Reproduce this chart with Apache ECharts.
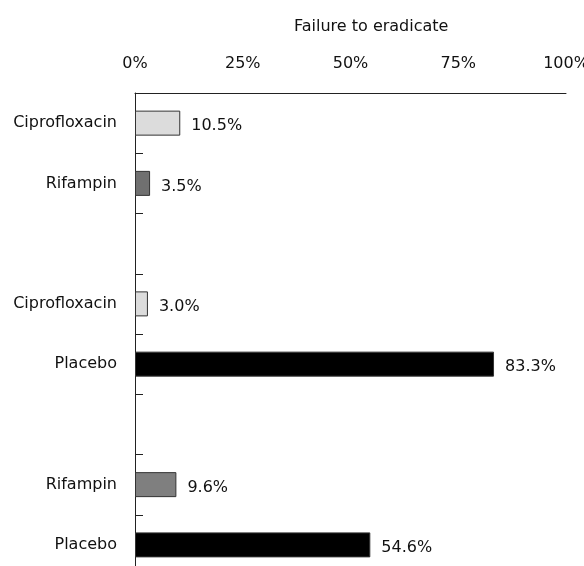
<!DOCTYPE html>
<html>
<head>
<meta charset="utf-8">
<script src="https://cdn.jsdelivr.net/npm/echarts@6/dist/echarts.min.js"></script>
<style>
  html, body { margin: 0; padding: 0; background: #fff; }
  #bar { width: 584px; height: 566px; }
</style>
</head>
<body>
<div id="bar"></div>
<script>
// categories (blank entries are the gaps between the study groups)
var categories = ['Ciprofloxacin', 'Rifampin', '', 'Ciprofloxacin', 'Placebo', '', 'Rifampin', 'Placebo'];
// failure to eradicate, %
var failure = [10.5, 3.5, null, 3.0, 83.3, null, 9.6, 54.6];
var xTicks = [0, 25, 50, 75, 100];

var fills = ['#dcdcdc', '#707070', null, '#dcdcdc', '#000000', null, '#7f7f7f', '#000000'];

var myChart = echarts.init(document.getElementById('bar'));

var option = {
    animation: false,
    textStyle: { fontFamily: 'DejaVu Sans', color: '#111' },
    title: {
        text: 'Failure to eradicate',
        left: 289,
        top: 14,
        textStyle: { fontFamily: 'DejaVu Sans', fontSize: 16, fontWeight: 'normal', color: '#111' }
    },
    grid: {
        left: 135,
        right: 18,
        top: 93,
        bottom: -9,
        containLabel: false,
        outerBoundsMode: 'none'
    },
    xAxis: {
        type: 'value',
        position: 'top',
        min: xTicks[0],
        max: xTicks[xTicks.length - 1],
        interval: 25,
        axisLine: { show: true, lineStyle: { color: '#222', width: 1 } },
        axisTick: { show: false },
        splitLine: { show: false },
        axisLabel: {
            margin: 21,
            fontSize: 16,
            color: '#111',
            formatter: function (v) { return v + '%'; }
        }
    },
    yAxis: {
        type: 'category',
        inverse: true,
        data: categories,
        axisLine: { show: true, lineStyle: { color: '#222', width: 1 } },
        axisTick: { show: true, inside: true, length: 8, lineStyle: { color: '#222' } },
        axisLabel: { margin: 18, fontSize: 16, color: '#111' }
    },
    series: [{
        type: 'bar',
        data: failure,
        barWidth: 25,
        itemStyle: {
            borderColor: '#333',
            borderWidth: 1,
            color: function (p) { return fills[p.dataIndex]; }
        },
        label: {
            show: true,
            position: 'right',
            distance: 11,
            offset: [0, 3],
            fontSize: 16,
            color: '#111',
            formatter: function (p) { return p.value.toFixed(1) + '%'; }
        }
    }]
};

myChart.setOption(option);
</script>
</body>
</html>
